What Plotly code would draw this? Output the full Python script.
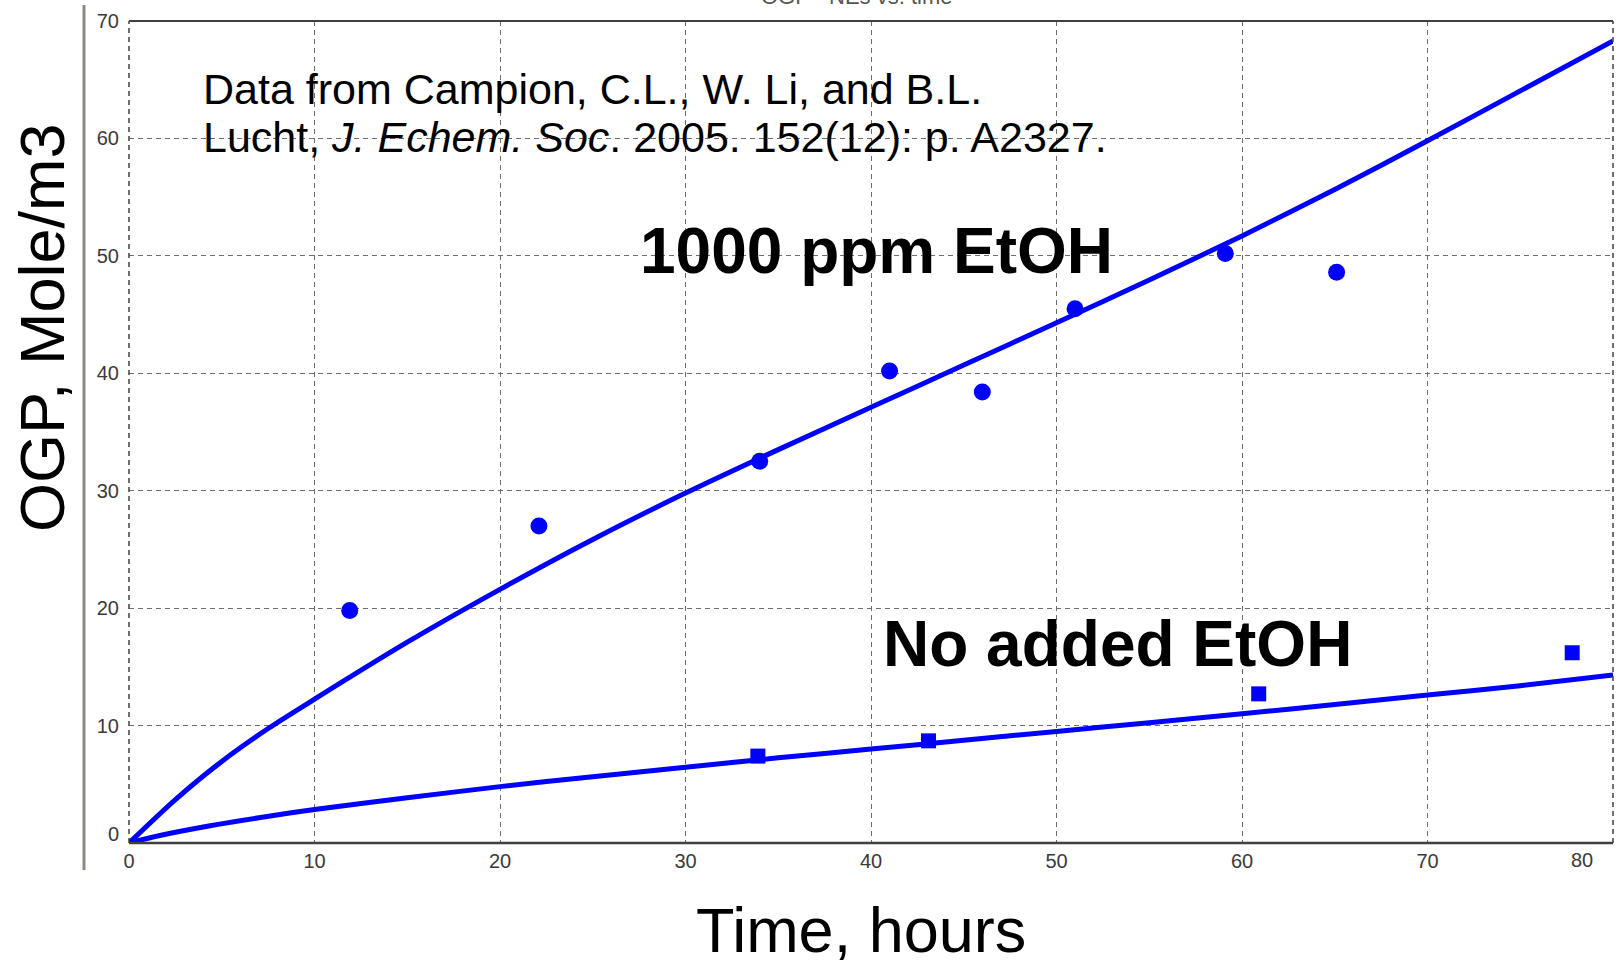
import plotly.graph_objects as go

# Model curves: OGP concentration (mole/m3) against time (hours)
fit_etoh_t = [0, 2.5, 5, 7.5, 10, 15, 20, 25, 30, 35, 40, 45, 50, 55, 60, 65, 70, 75, 80]
fit_etoh_ogp = [0, 3.7, 6.95, 9.75, 12.25, 17.1, 21.6, 25.85, 29.8, 33.5, 37.1, 40.7, 44.3,
                47.95, 51.7, 55.65, 59.8, 64.05, 68.3]
fit_neat_t = [0, 1.6, 4.3, 7, 10, 15, 20, 25, 30, 35, 40, 45, 50, 55, 60, 65, 70, 75, 80]
fit_neat_ogp = [0, 0.62, 1.45, 2.15, 2.85, 3.85, 4.8, 5.65, 6.45, 7.25, 8.0, 8.75, 9.5, 10.25, 11.0,
                11.8, 12.6, 13.4, 14.3]

# Measured points (Campion, Li and Lucht, 2005)
meas_etoh_t = [11.9, 22.1, 34.0, 41.0, 46.0, 51.0, 59.1, 65.1]
meas_etoh_ogp = [19.8, 27.0, 32.5, 40.2, 38.4, 45.5, 50.2, 48.6]
meas_neat_t = [33.9, 43.1, 60.9, 77.8]
meas_neat_ogp = [7.4, 8.7, 12.7, 16.2]

x_tick_vals = [0, 10, 20, 30, 40, 50, 60, 70]
y_tick_vals = [10, 20, 30, 40, 50, 60, 70]

W, H = 1621, 966
L, R, T, B = 129, 8, 21, 123
PW, PH = W - L - R, H - T - B


def px(x):
    return (x - L) / PW


def py(y):
    return (H - B - y) / PH


FONT = "Arial, Liberation Sans, sans-serif"
BLUE = "#0000ff"
TICK_COL = "#3a3a3a"
TICK_SIZE = 20

fig = go.Figure()
for t, v in ((fit_etoh_t, fit_etoh_ogp), (fit_neat_t, fit_neat_ogp)):
    fig.add_trace(go.Scatter(x=t, y=v, mode="lines",
                             line=dict(color=BLUE, width=5, shape="spline", smoothing=0.8),
                             showlegend=False, cliponaxis=False))
fig.add_trace(go.Scatter(x=meas_etoh_t, y=meas_etoh_ogp, mode="markers",
                         marker=dict(symbol="circle", size=17, color=BLUE), showlegend=False))
fig.add_trace(go.Scatter(x=meas_neat_t, y=meas_neat_ogp, mode="markers",
                         marker=dict(symbol="square", size=15, color=BLUE), showlegend=False))

fig.update_xaxes(range=[0, 80], tickvals=x_tick_vals, ticklabelstandoff=4,
                 showgrid=True, gridcolor="#6e6e6e", gridwidth=1, griddash="5px,4px", zeroline=False,
                 showline=False, ticks="", tickfont_family=FONT, tickfont_size=TICK_SIZE,
                 tickfont_color=TICK_COL)
fig.update_yaxes(range=[0, 70], tickvals=y_tick_vals, ticklabelstandoff=9,
                 showgrid=True, gridcolor="#6e6e6e", gridwidth=1, griddash="5px,4px", zeroline=False,
                 showline=False, ticks="", tickfont_family=FONT, tickfont_size=TICK_SIZE,
                 tickfont_color=TICK_COL)

shapes = [
    # plot frame
    dict(type="line", xref="paper", yref="paper", x0=0, x1=1, y0=1, y1=1, line=dict(color="#404040", width=2)),
    dict(type="line", xref="paper", yref="paper", x0=0, x1=1, y0=0, y1=0, line=dict(color="#404040", width=2.5)),
    dict(type="line", xref="paper", yref="paper", x0=0, x1=0, y0=0, y1=1,
         line=dict(color="#404040", width=1.5, dash="5px,4px")),
    dict(type="line", xref="paper", yref="paper", x0=1, x1=1, y0=0, y1=1,
         line=dict(color="#404040", width=1.5, dash="5px,4px")),
    # separator bar left of the axis
    dict(type="line", xref="paper", yref="paper", x0=px(84), x1=px(84), y0=py(5), y1=py(870),
         line=dict(color="#8f877c", width=3)),
]

annotations = [
    dict(text="Data from Campion, C.L., W. Li, and B.L.", xref="paper", yref="paper", x=px(201), y=py(89),
         xanchor="left", yanchor="middle", showarrow=False, font=dict(family=FONT, size=43, color="black")),
    dict(text="Lucht, <i>J. Echem. Soc</i>. 2005. 152(12): p. A2327.", xref="paper", yref="paper",
         x=px(201), y=py(137), xanchor="left", yanchor="middle", showarrow=False,
         font=dict(family=FONT, size=43, color="black")),
    dict(text="<b>1000 ppm EtOH</b>", xref="paper", yref="paper", x=px(876), y=py(251), xanchor="center",
         yanchor="middle", showarrow=False, font=dict(family=FONT, size=64, color="black")),
    dict(text="<b>No added EtOH</b>", xref="paper", yref="paper", x=px(1117), y=py(644), xanchor="center",
         yanchor="middle", showarrow=False, font=dict(family=FONT, size=64, color="black")),
    dict(text="OGP, Mole/m3", xref="paper", yref="paper", x=px(42), y=py(328), xanchor="center",
         yanchor="middle", textangle=-90, showarrow=False, font=dict(family=FONT, size=63, color="black")),
    dict(text="Time, hours", xref="paper", yref="paper", x=px(861), y=py(930), xanchor="center",
         yanchor="middle", showarrow=False, font=dict(family=FONT, size=63, color="black")),
    dict(text="OGP - NEs vs. time", xref="paper", yref="paper", x=px(857), y=py(11), xanchor="center",
         yanchor="bottom", showarrow=False, font=dict(family=FONT, size=22, color="#555555")),
    # end labels nudged inward
    dict(text="0", xref="paper", yref="y", x=0, y=0, xanchor="right", yanchor="middle", xshift=-8, yshift=9,
         showarrow=False, font=dict(family=FONT, size=TICK_SIZE, color=TICK_COL)),
    dict(text="80", xref="x", yref="paper", x=80, y=0, xanchor="center", yanchor="top", xshift=-31, yshift=-4,
         showarrow=False, font=dict(family=FONT, size=TICK_SIZE, color=TICK_COL)),
]

fig.update_layout(
    width=W, height=H, autosize=False,
    margin=dict(l=L, r=R, t=T, b=B),
    paper_bgcolor="white", plot_bgcolor="white",
    shapes=shapes, annotations=annotations,
    font=dict(family=FONT),
)

fig.write_html("out.html")
